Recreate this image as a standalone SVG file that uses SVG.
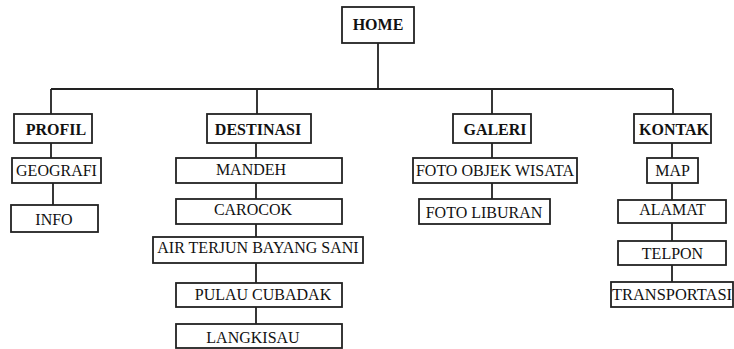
<svg xmlns="http://www.w3.org/2000/svg" width="734" height="349" viewBox="0 0 734 349">
<style>
rect{fill:#fff;stroke:#222;stroke-width:1.8}
text{font-family:"Liberation Serif","Times New Roman",serif;font-size:16px;fill:#111;text-anchor:middle}
.b{font-weight:bold}
#connectors path{fill:none;stroke:#222;stroke-width:1.8}
</style>
<rect x="0" y="0" width="734" height="349" style="fill:#fff;stroke:none"/>
<g id="connectors">
<path d="M378 43V89M51 89H673M51 89V114M257 89V114M492 89V114M673 89V114"/>
<path d="M51 143V158M53 183V205"/>
<path d="M256 143V158M256 183V199M256 224V237M256 263V283M256 307V324"/>
<path d="M492 143V158M492 183V199"/>
<path d="M672 143V158M672 183V200M672 223V241M672 265V282"/>
</g>
<g id="home"><rect x="342" y="7" width="72" height="36"/><text class="b" x="378" y="30">HOME</text></g>
<g id="profil"><rect x="14" y="114" width="78" height="29"/><text class="b" x="56" y="135">PROFIL</text></g>
<g id="destinasi"><rect x="207" y="114" width="104" height="29"/><text class="b" x="258" y="135">DESTINASI</text></g>
<g id="galeri"><rect x="453" y="114" width="78" height="29"/><text class="b" x="495" y="135">GALERI</text></g>
<g id="kontak"><rect x="634" y="114" width="77" height="29"/><text class="b" x="674" y="135">KONTAK</text></g>
<g id="geografi"><rect x="12" y="158" width="89" height="25"/><text x="56.5" y="176">GEOGRAFI</text></g>
<g id="info"><rect x="11" y="205" width="87" height="27"/><text x="54" y="225">INFO</text></g>
<g id="mandeh"><rect x="176" y="158" width="166" height="25"/><text x="251" y="175">MANDEH</text></g>
<g id="carocok"><rect x="176" y="199" width="166" height="25"/><text x="253" y="215">CAROCOK</text></g>
<g id="air-terjun"><rect x="153" y="237" width="210" height="26"/><text x="258" y="253">AIR TERJUN BAYANG SANI</text></g>
<g id="pulau-cubadak"><rect x="176" y="283" width="166" height="24"/><text x="263" y="300">PULAU CUBADAK</text></g>
<g id="langkisau"><rect x="176" y="324" width="166" height="24"/><text x="253" y="343">LANGKISAU</text></g>
<g id="foto-objek"><rect x="413" y="158" width="164" height="25"/><text x="495" y="176">FOTO OBJEK WISATA</text></g>
<g id="foto-liburan"><rect x="419" y="199" width="131" height="25"/><text x="484" y="218">FOTO LIBURAN</text></g>
<g id="map"><rect x="647" y="158" width="51" height="25"/><text x="672.5" y="176">MAP</text></g>
<g id="alamat"><rect x="618" y="200" width="108" height="23"/><text x="672.5" y="215">ALAMAT</text></g>
<g id="telpon"><rect x="618" y="241" width="108" height="24"/><text x="672.5" y="259">TELPON</text></g>
<g id="transportasi"><rect x="611" y="282" width="122" height="25"/><text x="672" y="300" textLength="120" lengthAdjust="spacingAndGlyphs">TRANSPORTASI</text></g>
</svg>
